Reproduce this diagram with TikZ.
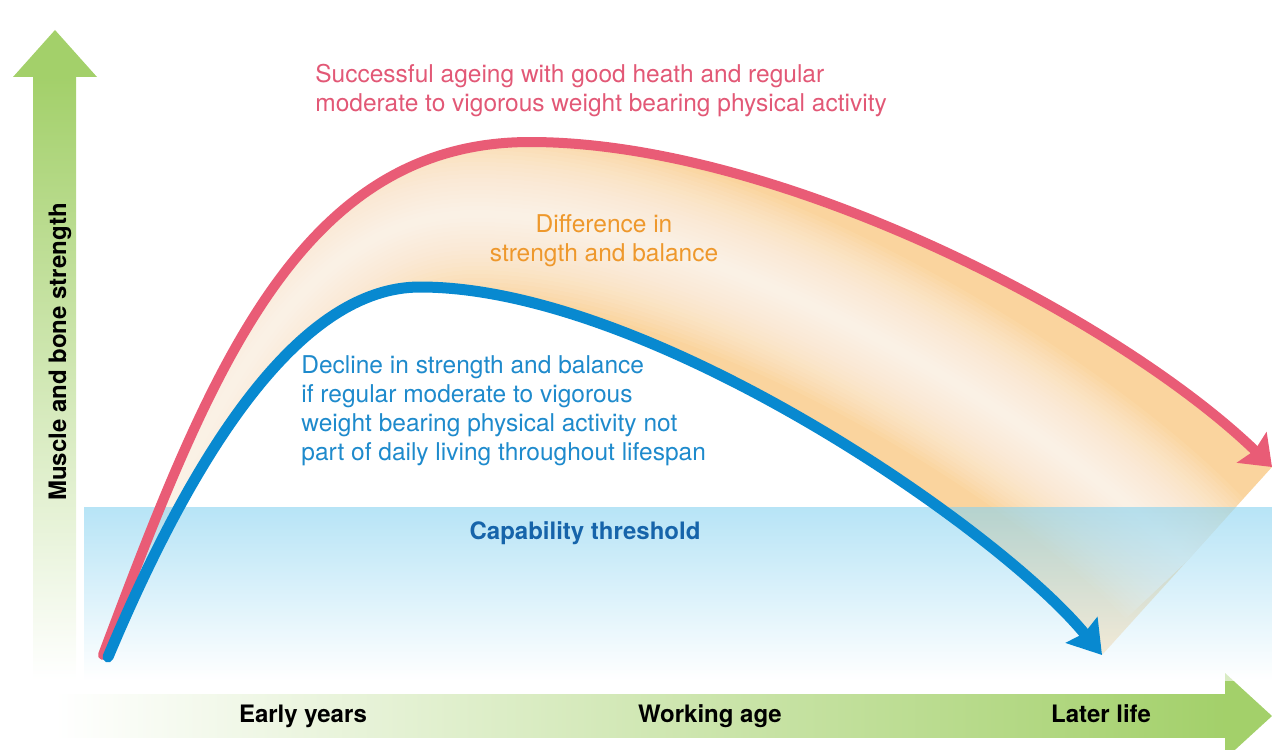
\documentclass[tikz,border=0pt]{standalone}
\usepackage{fontspec}
\setmainfont{TeX Gyre Heros}
\usetikzlibrary{arrows.meta}
\definecolor{axisgreen}{RGB}{163,208,106}
\definecolor{redline}{RGB}{233,92,118}
\definecolor{blueline}{RGB}{8,137,208}
\definecolor{redtext}{RGB}{226,88,118}
\definecolor{orangetext}{RGB}{238,152,44}
\definecolor{bluetext}{RGB}{30,138,204}
\definecolor{threshtext}{RGB}{22,100,170}
\definecolor{fillorange}{RGB}{250,212,158}
\definecolor{bandblue}{RGB}{135,210,240}

\begin{document}
\begin{tikzpicture}
  [x=.5pt,y=-.5pt,every node/.style={inner sep=0pt,font=\fontsize{12.25}{14.5}\selectfont}]
  \tikzstyle{rc}=[draw=redline,line width=5pt,line cap=round,-{Stealth[length=14pt,width=21pt,inset=2pt]}]
  \tikzstyle{bc}=[draw=blueline,line width=5.5pt,line cap=round,-{Stealth[length=16pt,width=20pt,inset=2pt]}]
  \tikzstyle{ax}=[font=\bfseries\fontsize{12}{14.5}\selectfont]
  \clip (0,0) rectangle (1272,749);
  \coordinate (r0) at (103,655);
  \coordinate (rpk) at (530,142);
  \coordinate (rtip) at (1272,467);
  \coordinate (b0) at (108,657);
  \coordinate (bpk) at (420,287);
  \coordinate (btip) at (1102,655);

  \shade[top color=axisgreen,bottom color=white] (33,77) rectangle (76,680);
  \fill[axisgreen] (13,77) -- (55,30) -- (97,77) -- cycle;
  \shade[left color=white,right color=axisgreen] (55,694) rectangle (1226,737);
  \fill[axisgreen] (1225,673) -- (1272,716) -- (1225,759) -- cycle;

  \begin{scope}
    \clip (r0) .. controls (210,370) and (300,142) .. (rpk) .. controls (780,142) and (1120,320) .. (rtip)
      -- (btip) .. controls (1000,530) and (650,287) .. (bpk) .. controls (300,287) and (195,450) .. (b0) -- cycle;
    \fill[fillorange] (84,100) rectangle (1272,700);
    \foreach \w in {4,8,...,84}
      \draw[white,opacity=.07,line width=\w pt] (105,656) .. controls (202,410) and (300,214) .. (475,214) .. controls (715,214) and (1060,425) .. (1187,561);
  \end{scope}

  \shade[top color=bandblue,bottom color=white,opacity=.6] (84,507) rectangle (1272,680);

  \draw[rc] (r0) .. controls (210,370) and (300,142) .. (rpk) .. controls (780,142) and (1120,320) .. (rtip);
  \draw[bc] (b0) .. controls (195,450) and (300,287) .. (bpk) .. controls (650,287) and (1000,530) .. (btip);

  \node[text=redtext,anchor=north west,align=left] (good) at (315,64) {Successful ageing with good heath and regular\\moderate to vigorous weight bearing physical activity};
  \node[text=orangetext,anchor=north,align=center] (diff) at (604,214) {Difference in\\strength and balance};
  \node[text=bluetext,anchor=north west,align=left] (decl) at (301,355) {Decline in strength and balance\\if regular moderate to vigorous\\weight bearing physical activity not\\part of daily living throughout lifespan};
  \node[ax,text=threshtext,anchor=base] (cap) at (585,539) {Capability threshold};
  \node[ax,anchor=base] (early) at (303,722) {Early years};
  \node[ax,anchor=base] (work) at (710,722) {Working age};
  \node[ax,anchor=base] (later) at (1101,722) {Later life};
  \node[ax,anchor=base,rotate=90] (ylab) at (66,352) {Muscle and bone strength};
\end{tikzpicture}
\end{document}
